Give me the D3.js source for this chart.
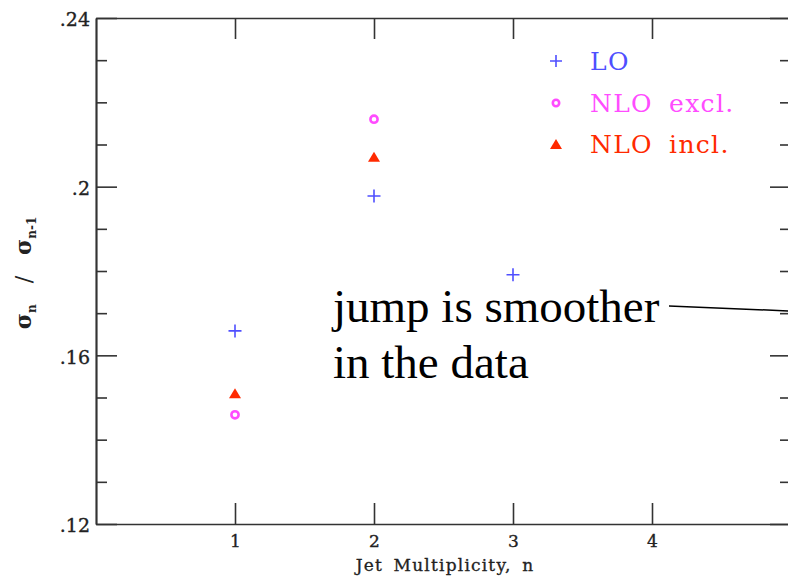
<!DOCTYPE html>
<html>
<head>
<meta charset="utf-8">
<script src="https://cdn.jsdelivr.net/npm/d3@7"></script>
<style>
  html, body { margin: 0; padding: 0; background: #fff; }
  svg { display: block; }
  .tick text { font-family: "DejaVu Serif", serif; fill: #222; stroke: #222; stroke-width: 0.35px; }
</style>
</head>
<body>
<svg id="chart" width="788" height="579"></svg>
<script>
// Jet multiplicity ratios sigma_n / sigma_(n-1)
const multiplicity = [1, 2, 3];
const loValues = [0.1658, 0.1978, 0.1791];
const nloExclN = [1, 2];
const nloExclValues = [0.1459, 0.2160];
const nloInclN = [1, 2];
const nloInclValues = [0.1510, 0.2071];

const xTicks = [1, 2, 3, 4];
const yMajorTicks = [0.12, 0.16, 0.20, 0.24];
const yTickLabels = [".12", ".16", ".2", ".24"];
const yMinorTicks = [0.13, 0.14, 0.15, 0.17, 0.18, 0.19, 0.21, 0.22, 0.23];

const legendLabels = ["LO", "NLO excl.", "NLO incl."];
const colors = { lo: "#4f4fff", excl: "#ff4cff", incl: "#ff2a00" };

const svg = d3.select("#chart");
const plotLeft = 96, plotRight = 791, plotTop = 18, plotBottom = 524;

const x = d3.scaleLinear().domain([0, 5]).range([plotLeft, plotRight]);
const y = d3.scaleLinear().domain([0.12, 0.24]).range([plotBottom, plotTop]);

const axisColor = "#333";
function styleAxis(g) {
  g.selectAll("path.domain").attr("stroke", axisColor).attr("stroke-width", 1.7);
  g.selectAll(".tick line").attr("stroke", axisColor).attr("stroke-width", 1.6);
}

// left axis: labelled major ticks and short minor ticks
svg.append("g").attr("transform", `translate(${plotLeft},0)`)
  .call(d3.axisLeft(y).tickValues(yMajorTicks).tickSizeInner(-21).tickSizeOuter(0)
    .tickPadding(6).tickFormat((d, i) => yTickLabels[i]))
  .call(styleAxis)
  .call(g => g.selectAll(".tick text").attr("font-size", 19).attr("dy", "0.42em"));
svg.append("g").attr("transform", `translate(${plotLeft},0)`)
  .call(d3.axisLeft(y).tickValues(yMinorTicks).tickSizeInner(-11).tickSizeOuter(0).tickFormat(""))
  .call(styleAxis);

// right axis (mirror ticks)
svg.append("g").attr("transform", `translate(${plotRight},0)`)
  .call(d3.axisRight(y).tickValues(yMajorTicks).tickSizeInner(-21).tickSizeOuter(0).tickFormat(""))
  .call(styleAxis);
svg.append("g").attr("transform", `translate(${plotRight},0)`)
  .call(d3.axisRight(y).tickValues(yMinorTicks).tickSizeInner(-11).tickSizeOuter(0).tickFormat(""))
  .call(styleAxis);

// bottom axis
svg.append("g").attr("transform", `translate(0,${plotBottom})`)
  .call(d3.axisBottom(x).tickValues(xTicks).tickSizeInner(-21).tickSizeOuter(0)
    .tickPadding(11).tickFormat(d3.format("d")))
  .call(styleAxis)
  .call(g => g.selectAll(".tick text").attr("font-size", 17));

// top axis
svg.append("g").attr("transform", `translate(0,${plotTop})`)
  .call(d3.axisTop(x).tickValues(xTicks).tickSizeInner(-21).tickSizeOuter(0).tickFormat(""))
  .call(styleAxis);

// axis titles
svg.append("text")
  .attr("x", 445).attr("y", 571)
  .attr("text-anchor", "middle")
  .attr("font-family", "DejaVu Serif, serif").attr("font-size", 17)
  .attr("letter-spacing", 1.2).attr("word-spacing", 4)
  .attr("fill", "#222").attr("stroke", "#222").attr("stroke-width", 0.3)
  .text("Jet Multiplicity, n");

const yTitle = svg.append("text")
  .attr("transform", "translate(31,273) rotate(-90)")
  .attr("text-anchor", "middle")
  .attr("font-family", "DejaVu Serif, serif").attr("font-size", 22)
  .attr("font-weight", "bold").attr("fill", "#222");
yTitle.append("tspan").text("σ");
yTitle.append("tspan").attr("font-size", 12).attr("dy", 5).text("n");
yTitle.append("tspan").attr("dy", -5).attr("font-weight", "normal").attr("xml:space", "preserve")
  .style("white-space", "pre").text("   /   ");
yTitle.append("tspan").text("σ");
yTitle.append("tspan").attr("font-size", 12).attr("dy", 5).text("n-1");

// marker shapes
function drawPlus(g, cx, cy, half, color) {
  g.append("path")
    .attr("d", `M${cx - half},${cy}H${cx + half}M${cx},${cy - half}V${cy + half}`)
    .attr("stroke", color).attr("stroke-width", 1.6).attr("fill", "none");
}
function drawRing(g, cx, cy, r, color) {
  g.append("circle").attr("cx", cx).attr("cy", cy).attr("r", r)
    .attr("fill", "none").attr("stroke", color).attr("stroke-width", 2.6);
}
function drawTri(g, cx, cy, w, color) {
  const h = w * 0.82;
  g.append("path")
    .attr("d", `M${cx - w / 2},${cy + h / 2}L${cx + w / 2},${cy + h / 2}L${cx},${cy - h / 2}Z`)
    .attr("fill", color);
}

const marks = svg.append("g");
multiplicity.forEach((n, i) => drawPlus(marks, x(n), y(loValues[i]), 6.5, colors.lo));
nloExclN.forEach((n, i) => drawRing(marks, x(n), y(nloExclValues[i]), 3.6, colors.excl));
nloInclN.forEach((n, i) => drawTri(marks, x(n), y(nloInclValues[i]), 12, colors.incl));

// legend
const legend = svg.append("g");
const legendX = 556, legendY = [61, 103, 144];
const legendColors = [colors.lo, colors.excl, colors.incl];
drawPlus(legend, legendX, legendY[0], 6, colors.lo);
drawRing(legend, legendX, legendY[1], 3.2, colors.excl);
drawTri(legend, legendX, legendY[2], 12, colors.incl);
legendLabels.forEach((t, i) => {
  legend.append("text")
    .attr("x", 590).attr("y", legendY[i] + 9)
    .attr("font-family", "DejaVu Serif, serif").attr("font-size", 25)
    .attr("letter-spacing", 1.3).attr("word-spacing", 7)
    .attr("fill", legendColors[i])
    .text(t);
});

// annotation
const note = svg.append("g").attr("font-family", "Liberation Serif, Times New Roman, serif")
  .attr("font-size", 47).attr("fill", "#000");
note.append("text").attr("x", 333).attr("y", 322).text("jump is smoother");
note.append("text").attr("x", 333).attr("y", 378).text("in the data");
svg.append("path")
  .attr("d", "M669,306L791,311")
  .attr("stroke", "#000").attr("stroke-width", 1.5).attr("fill", "none");
</script>
</body>
</html>
